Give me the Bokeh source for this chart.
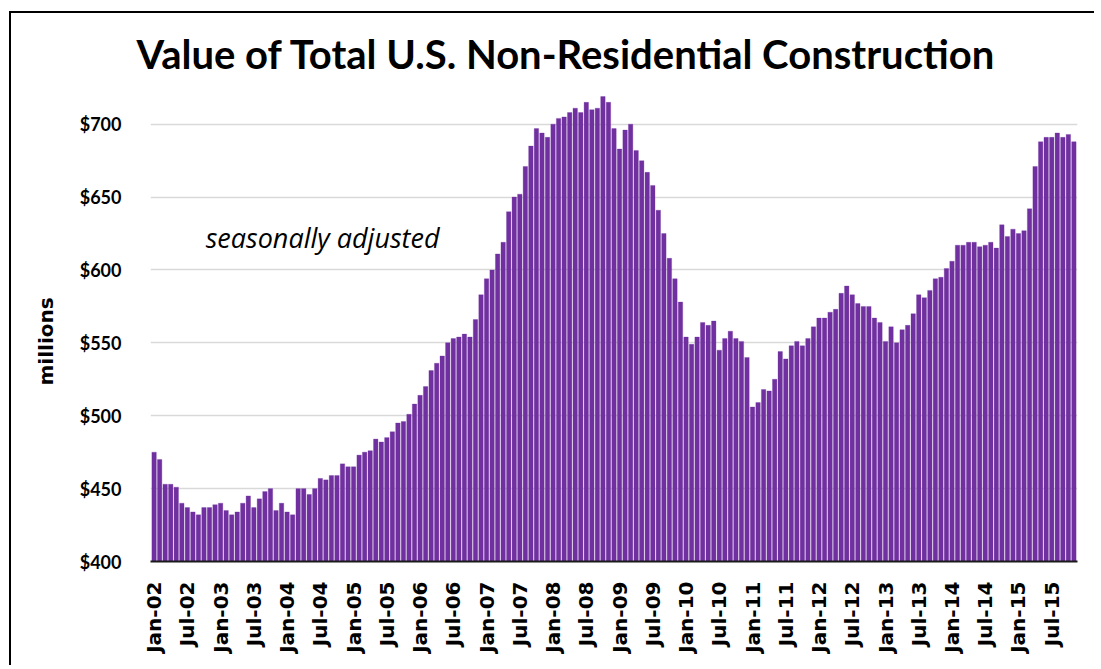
import math
from bokeh.plotting import figure
from bokeh.models import Range1d, FixedTicker, Title, Label, ColumnDataSource
from bokeh.embed import file_html
from bokeh.resources import INLINE

# Monthly values, Jan-02 .. Nov-15 (millions, seasonally adjusted)
values = [
    475, 470, 453, 453, 451, 440, 437, 434, 432, 437, 437, 439,   # 2002
    440, 435, 432, 434, 440, 445, 437, 443, 448, 450, 435, 440,   # 2003
    434, 432, 450, 450, 446, 450, 457, 456, 459, 459, 467, 465,   # 2004
    465, 473, 475, 476, 484, 482, 485, 489, 495, 496, 501, 508,   # 2005
    514, 520, 531, 536, 541, 550, 553, 554, 556, 554, 566, 583,   # 2006
    594, 600, 611, 619, 640, 650, 652, 671, 685, 697, 694, 691,   # 2007
    700, 704, 705, 708, 711, 708, 715, 710, 711, 719, 715, 697,   # 2008
    683, 696, 700, 682, 675, 667, 658, 641, 625, 608, 594, 578,   # 2009
    554, 549, 554, 564, 562, 565, 545, 553, 558, 553, 551, 540,   # 2010
    506, 509, 518, 517, 525, 544, 539, 548, 551, 548, 553, 561,   # 2011
    567, 567, 571, 573, 584, 589, 583, 577, 575, 575, 567, 564,   # 2012
    551, 561, 550, 559, 562, 570, 583, 581, 586, 594, 595, 601,   # 2013
    606, 617, 617, 619, 619, 616, 617, 619, 615, 631, 623, 628,   # 2014
    625, 627, 642, 671, 688, 691, 691, 694, 691, 693, 688,        # 2015
]
months = ["Jan", "Feb", "Mar", "Apr", "May", "Jun", "Jul", "Aug", "Sep", "Oct", "Nov", "Dec"]
years = ["02", "03", "04", "05", "06", "07", "08", "09", "10", "11", "12", "13", "14", "15"]
categories = [f"{months[i % 12]}-{years[i // 12]}" for i in range(len(values))]
tick_idx = list(range(0, len(values), 6))
tick_labels = [categories[i] for i in tick_idx]
y_ticks = [400, 450, 500, 550, 600, 650, 700]
y_tick_labels = ["$400", "$450", "$500", "$550", "$600", "$650", "$700"]

BAR = "#7030A0"

src = ColumnDataSource(dict(x=list(range(len(values))), top=values, cat=categories))

p = figure(width=1085, height=654, output_backend="svg", toolbar_location=None,
           x_range=Range1d(-0.65, len(values) - 0.35), y_range=Range1d(400, 730),
           min_border_left=139, min_border_right=19, min_border_top=67, min_border_bottom=106)
p.styles = {"border-top": "2px solid #000", "border-left": "2px solid #000",
            "margin-left": "9px", "margin-top": "11px"}

p.vbar(x="x", top="top", bottom=400, width=0.8, source=src,
       fill_color=BAR, line_color=BAR, line_width=0.3)

p.outline_line_color = None
p.background_fill_color = "white"
p.border_fill_color = "white"

# grid
p.xgrid.visible = False
p.ygrid.ticker = FixedTicker(ticks=y_ticks)
p.ygrid.grid_line_color = "#d9d9d9"
p.ygrid.grid_line_width = 1.5

# y axis
p.yaxis.ticker = FixedTicker(ticks=y_ticks)
p.yaxis.major_label_overrides = {t: l for t, l in zip(y_ticks, y_tick_labels)}
p.yaxis.axis_line_color = None
p.yaxis.major_tick_line_color = None
p.yaxis.minor_tick_line_color = None
p.yaxis.major_label_standoff = 23
p.yaxis.major_label_text_font = "Lato"
p.yaxis.major_label_text_font_style = "bold"
p.yaxis.major_label_text_font_size = "18px"
p.yaxis.major_label_text_color = "#000000"

# x axis
p.xaxis.ticker = FixedTicker(ticks=tick_idx)
p.xaxis.major_label_overrides = {t: l for t, l in zip(tick_idx, tick_labels)}
p.xaxis.major_label_orientation = math.pi / 2
p.xaxis.axis_line_color = "#1a1a1a"
p.xaxis.axis_line_width = 2
p.xaxis.major_tick_line_color = None
p.xaxis.minor_tick_line_color = None
p.xaxis.major_label_standoff = 14
p.xaxis.major_label_text_font = "DejaVu Sans"
p.xaxis.major_label_text_font_style = "bold"
p.xaxis.major_label_text_font_size = "20px"
p.xaxis.major_label_text_color = "#000000"

# title
p.add_layout(Title(text="Value of Total U.S. Non-Residential Construction", align="left",
                   offset=-14, text_font="Lato", text_font_style="bold",
                   text_font_size="40px", text_color="#000000", standoff=5), "above")

# y axis title
p.add_layout(Title(text="millions", align="left", offset=176, text_font="DejaVu Sans",
                   text_font_style="bold", text_font_size="20px", text_color="#000000",
                   standoff=38), "left")

# annotation
p.add_layout(Label(x=9.3, y=622.5, text="seasonally adjusted", text_font="Open Sans",
                   text_font_style="italic", text_font_size="27px", text_color="#000000",
                   text_baseline="middle", text_align="left"))

open("out.html", "w").write(file_html(p, INLINE))
